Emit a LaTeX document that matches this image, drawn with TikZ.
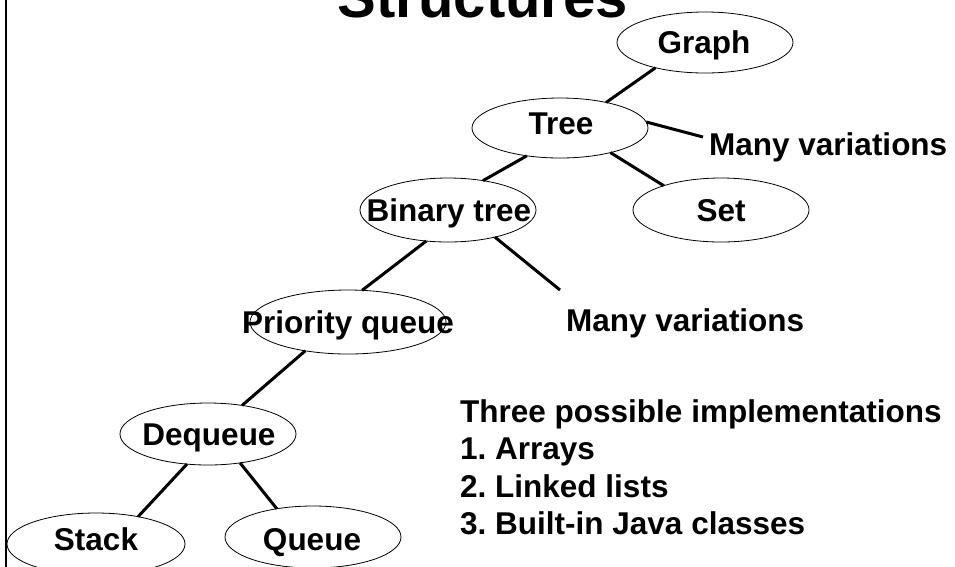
\documentclass[tikz,border=0pt]{standalone}
\usepackage{fontspec}
\setmainfont{Liberation Sans}
\usetikzlibrary{shapes.geometric}
\frenchspacing
\begin{document}
\begin{tikzpicture}[x=1pt,y=-1pt,
  ell/.style={draw, ellipse, line width=0.8pt, inner sep=0pt, outer sep=0pt},
  lbl/.style={anchor=base, inner sep=0pt, font=\fontsize{31.5}{38}\selectfont\bfseries},
  txt/.style={anchor=base west, inner sep=0pt, font=\fontsize{31.5}{38}\selectfont\bfseries},
  conn/.style={line width=3pt}]
\useasboundingbox (0,0) rectangle (955,566);
% left border
\draw[line width=2pt] (6,-5) -- (6,575);
% title
\node[anchor=base, inner sep=0pt, font=\fontsize{58}{64}\selectfont\bfseries] (title) at (483,17) {Structures};
% ellipses
\node[ell, minimum width=176pt, minimum height=61pt] (graph) at (705,42.5) {};
\node[ell, minimum width=176pt, minimum height=60pt] (tree) at (560,128) {};
\node[ell, minimum width=176pt, minimum height=64pt] (set) at (721,210) {};
\node[ell, minimum width=176pt, minimum height=64pt] (binary) at (448,210) {};
\node[ell, minimum width=196pt, minimum height=64pt] (pq) at (348,322) {};
\node[ell, minimum width=176pt, minimum height=62pt] (dequeue) at (208,434) {};
\node[ell, minimum width=178pt, minimum height=62pt] (stack) at (96,544) {};
\node[ell, minimum width=176pt, minimum height=62pt] (queue) at (313,537) {};
% labels
\node[lbl] (graphT) at (704,53) {Graph};
\node[lbl] (treeT) at (561,134) {Tree};
\node[lbl] (setT) at (721,221) {Set};
\node[lbl] (binaryT) at (449,221) {Binary tree};
\node[lbl] (pqT) at (348,333) {Priority queue};
\node[lbl] (dequeueT) at (209,445) {Dequeue};
\node[lbl] (stackT) at (96,550) {Stack};
\node[lbl] (queueT) at (312,550) {Queue};
\node[txt] (mv1) at (709,155) {Many variations};
\node[txt] (mv2) at (566,331) {Many variations};
\node[txt] (impl0) at (460,422.5) {Three possible implementations};
\node[txt] (impl1) at (460,459.5) {1. Arrays};
\node[txt] (impl2) at (460,497) {2. Linked lists};
\node[txt] (impl3) at (460,534.5) {3. Built-in Java classes};
\coordinate (mv1c) at (703,137);
\coordinate (mv2c) at (560,290);
% connectors
\draw[conn] (graph.207) -- (tree.29);
\draw[conn] (tree.4) -- (mv1c);
\draw[conn] (tree.-26) -- (set.157);
\draw[conn] (tree.220) -- (binary.40);
\draw[conn] (binary.235) -- (pq.66);
\draw[conn] (binary.-30) -- (mv2c);
\draw[conn] (pq.214) -- (dequeue.40);
\draw[conn] (dequeue.235) -- (stack.33);
\draw[conn] (dequeue.-42) -- (queue.142);
\end{tikzpicture}
\end{document}
